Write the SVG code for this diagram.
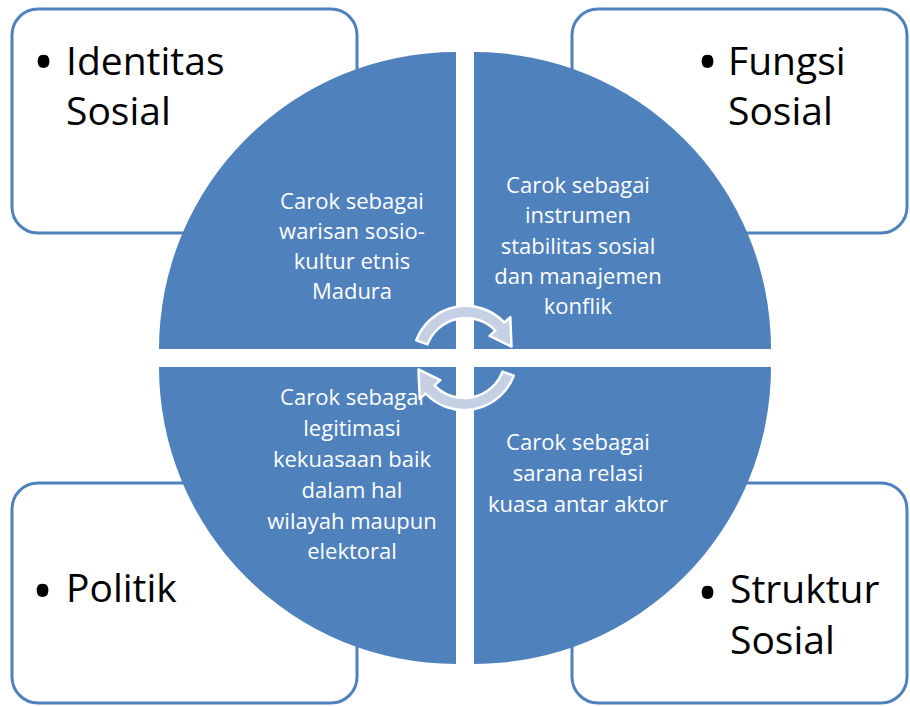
<svg xmlns="http://www.w3.org/2000/svg" width="910" height="706" viewBox="0 0 910 706">
<style>
.box{fill:#ffffff;stroke:#4f81bd;stroke-width:3}
.quad{fill:#4f81bd}
.lbl{font-family:"Open Sans","Liberation Sans",sans-serif;font-size:39px;fill:#000000}
.bul{font-family:"Open Sans","Liberation Sans",sans-serif;font-size:56px;fill:#000000}
.qt{font-family:"Open Sans","Liberation Sans",sans-serif;font-size:22px;fill:#ffffff;text-anchor:middle}
.arr{fill:#c5d0e4;stroke:#ffffff;stroke-width:2.5;stroke-linejoin:round}
</style>
<rect width="910" height="706" fill="#ffffff"/>
<g id="box-identitas">
<rect class="box" x="12" y="9" width="345" height="224" rx="26"/>
<text class="bul" x="33" y="82">•</text>
<text class="lbl" x="66" y="75">Identitas</text>
<text class="lbl" x="66" y="125">Sosial</text>
</g>
<g id="box-fungsi">
<rect class="box" x="572" y="9" width="335" height="224" rx="26"/>
<text class="bul" x="697" y="82">•</text>
<text class="lbl" x="728" y="75">Fungsi</text>
<text class="lbl" x="728" y="125">Sosial</text>
</g>
<g id="box-politik">
<rect class="box" x="12" y="483" width="345" height="220" rx="26"/>
<text class="bul" x="32" y="611">•</text>
<text class="lbl" x="66" y="602">Politik</text>
</g>
<g id="box-struktur">
<rect class="box" x="572" y="483" width="335" height="220" rx="26"/>
<text class="bul" x="697" y="613">•</text>
<text class="lbl" x="730" y="603">Struktur</text>
<text class="lbl" x="730" y="654">Sosial</text>
</g>
<g id="quad-tl">
<path class="quad" d="M456,349 L159,349 A297,297 0 0 1 456,52 Z"/>
<text class="qt" x="352" y="209">Carok sebagai</text>
<text class="qt" x="352" y="239">warisan sosio-</text>
<text class="qt" x="352" y="269">kultur etnis</text>
<text class="qt" x="352" y="299">Madura</text>
</g>
<g id="quad-tr">
<path class="quad" d="M474,349 L474,52 A297,297 0 0 1 771,349 Z"/>
<text class="qt" x="578" y="193">Carok sebagai</text>
<text class="qt" x="578" y="223">instrumen</text>
<text class="qt" x="578" y="254">stabilitas sosial</text>
<text class="qt" x="578" y="284">dan manajemen</text>
<text class="qt" x="578" y="314">konflik</text>
</g>
<g id="quad-br">
<path class="quad" d="M474,367 L771,367 A297,297 0 0 1 474,664 Z"/>
<text class="qt" x="578" y="450">Carok sebagai</text>
<text class="qt" x="578" y="481">sarana relasi</text>
<text class="qt" x="578" y="512">kuasa antar aktor</text>
</g>
<g id="quad-bl">
<path class="quad" d="M456,367 L456,664 A297,297 0 0 1 159,367 Z"/>
<text class="qt" x="352" y="405">Carok sebagai</text>
<text class="qt" x="352" y="436">legitimasi</text>
<text class="qt" x="352" y="467">kekuasaan baik</text>
<text class="qt" x="352" y="498">dalam hal</text>
<text class="qt" x="352" y="529">wilayah maupun</text>
<text class="qt" x="352" y="559">elektoral</text>
</g>
<g id="connectors">
<path class="arr" d="M416.2,340.4 A53,53 0 0 1 504.4,322.5 L510.3,317.2 L511.5,346.5 L489.6,335.9 L495.5,330.6 A41,41 0 0 0 427.5,344.4 Z"/>
<path class="arr" transform="rotate(180 465 358)" d="M416.2,340.4 A53,53 0 0 1 504.4,322.5 L510.3,317.2 L511.5,346.5 L489.6,335.9 L495.5,330.6 A41,41 0 0 0 427.5,344.4 Z"/>
</g>
</svg>
